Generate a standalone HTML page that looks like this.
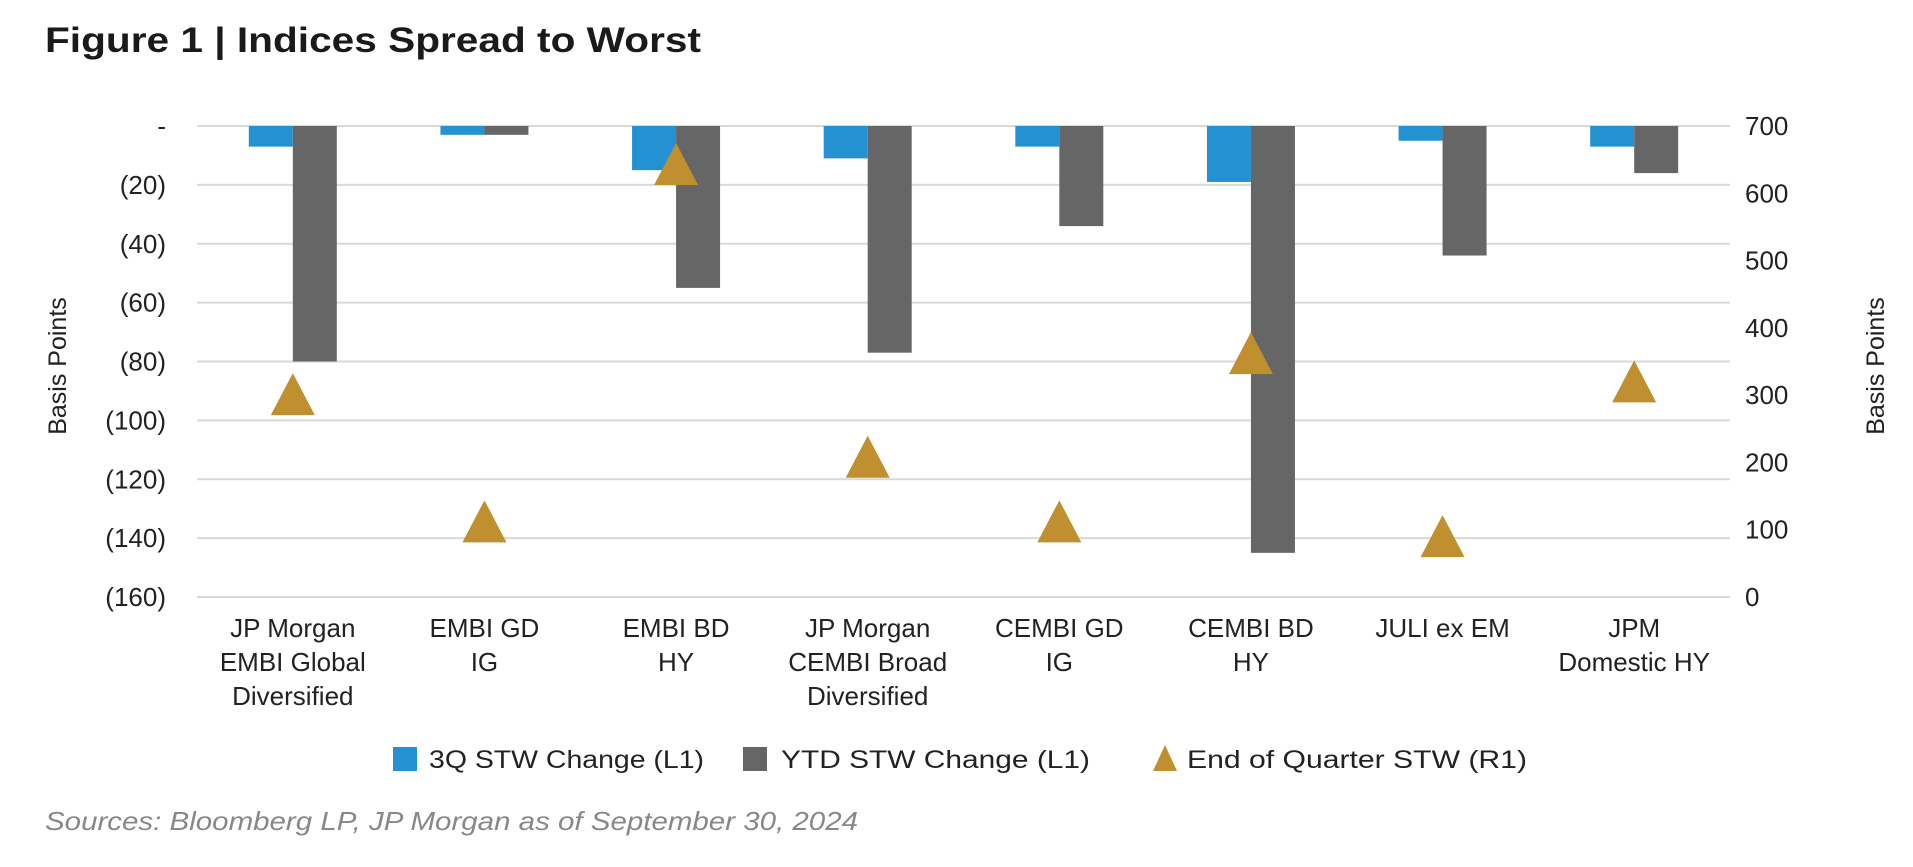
<!DOCTYPE html>
<html><head><meta charset="utf-8"><style>
body{margin:0;background:#fff;}
svg{display:block;font-family:"Liberation Sans",sans-serif;}
</style></head><body>
<svg id="chart" width="1913" height="867" viewBox="0 0 1913 867" xmlns="http://www.w3.org/2000/svg">
<text x="45" y="52" font-size="35" font-weight="bold" fill="#1a1a1a" textLength="656" lengthAdjust="spacingAndGlyphs">Figure 1 | Indices Spread to Worst</text>
<g id="grid"></g><g id="bars"></g><g id="marks"></g><g id="labels"></g>
<text transform="translate(66,366) rotate(-90)" text-anchor="middle" font-size="25" fill="#222">Basis Points</text>
<text transform="translate(1884,366) rotate(-90)" text-anchor="middle" font-size="25" fill="#222">Basis Points</text>
<g font-size="25" fill="#222">
<rect x="393" y="747" width="24" height="24" fill="#2391D2"/>
<text x="429" y="768" textLength="275" lengthAdjust="spacingAndGlyphs">3Q STW Change (L1)</text>
<rect x="743" y="747" width="24" height="24" fill="#666666"/>
<text x="781" y="768" textLength="309" lengthAdjust="spacingAndGlyphs">YTD STW Change (L1)</text>
<polygon points="1153,771 1177,771 1165,745" fill="#BF8F30"/>
<text x="1187" y="768" textLength="340" lengthAdjust="spacingAndGlyphs">End of Quarter STW (R1)</text>
</g>
<text x="45" y="830" font-size="26" font-style="italic" fill="#888" textLength="813" lengthAdjust="spacingAndGlyphs">Sources: Bloomberg LP, JP Morgan as of September 30, 2024</text>
</svg>
<script>
const categories = [["JP Morgan","EMBI Global","Diversified"],["EMBI GD","IG"],["EMBI BD","HY"],["JP Morgan","CEMBI Broad","Diversified"],["CEMBI GD","IG"],["CEMBI BD","HY"],["JULI ex EM"],["JPM","Domestic HY"]];
const q3Change = [-7,-3,-15,-11,-7,-19,-5,-7];
const ytdChange = [-80,-3,-55,-77,-34,-145,-44,-16];
const endQuarter = [300,111,642,207,111,361,89,319];
const leftTicks = [0,-20,-40,-60,-80,-100,-120,-140,-160];
const leftTickLabels = ["-","(20)","(40)","(60)","(80)","(100)","(120)","(140)","(160)"];
const rightTicks = [0,100,200,300,400,500,600,700];

const NS="http://www.w3.org/2000/svg";
const L=197,R=1730,T=126,B=597;
const yL=v=>T+(0-v)/160*(B-T);
const yR=v=>B-v/700*(B-T);
const band=(R-L)/categories.length;
const cx=i=>L+band*(i+0.5);
function mk(tag,attrs,parent,txt){const e=document.createElementNS(NS,tag);for(const k in attrs)e.setAttribute(k,attrs[k]);if(txt!==undefined)e.textContent=txt;document.getElementById(parent).appendChild(e);return e;}
leftTicks.forEach((t,i)=>{
  const g=mk('line',{x1:L,x2:R,y1:yL(t),y2:yL(t),stroke:'#d9d9d9','stroke-width':2},'grid');
  
  
  const tx=mk('text',{x:166,y:yL(t)+9,'text-anchor':'end','font-size':26,fill:'#222'},'labels',leftTickLabels[i]);
  
  
});
rightTicks.forEach(t=>{
  const tx=mk('text',{x:1745,y:yR(t)+9,'font-size':26,fill:'#222'},'labels',String(t));
  
  
});
const bw=44;
categories.forEach((c,i)=>{
  const x=cx(i);
  const b1=mk('rect',{x:x-bw,y:yL(0),width:bw,height:yL(q3Change[i])-yL(0),fill:'#2391D2'},'bars');
  
  
  const b2=mk('rect',{x:x,y:yL(0),width:bw,height:yL(ytdChange[i])-yL(0),fill:'#666666'},'bars');
  
  
  const y=yR(endQuarter[i]);
  const tri=mk('polygon',{points:`${x-22},${y+20} ${x+22},${y+20} ${x},${y-22}`,fill:'#BF8F30'},'marks');
  
  
  c.forEach((line,j)=>{
    const tx=mk('text',{x:x,y:637+j*34,'text-anchor':'middle','font-size':26,fill:'#222'},'labels',line);
    
    
  });
});
</script>
</body></html>
